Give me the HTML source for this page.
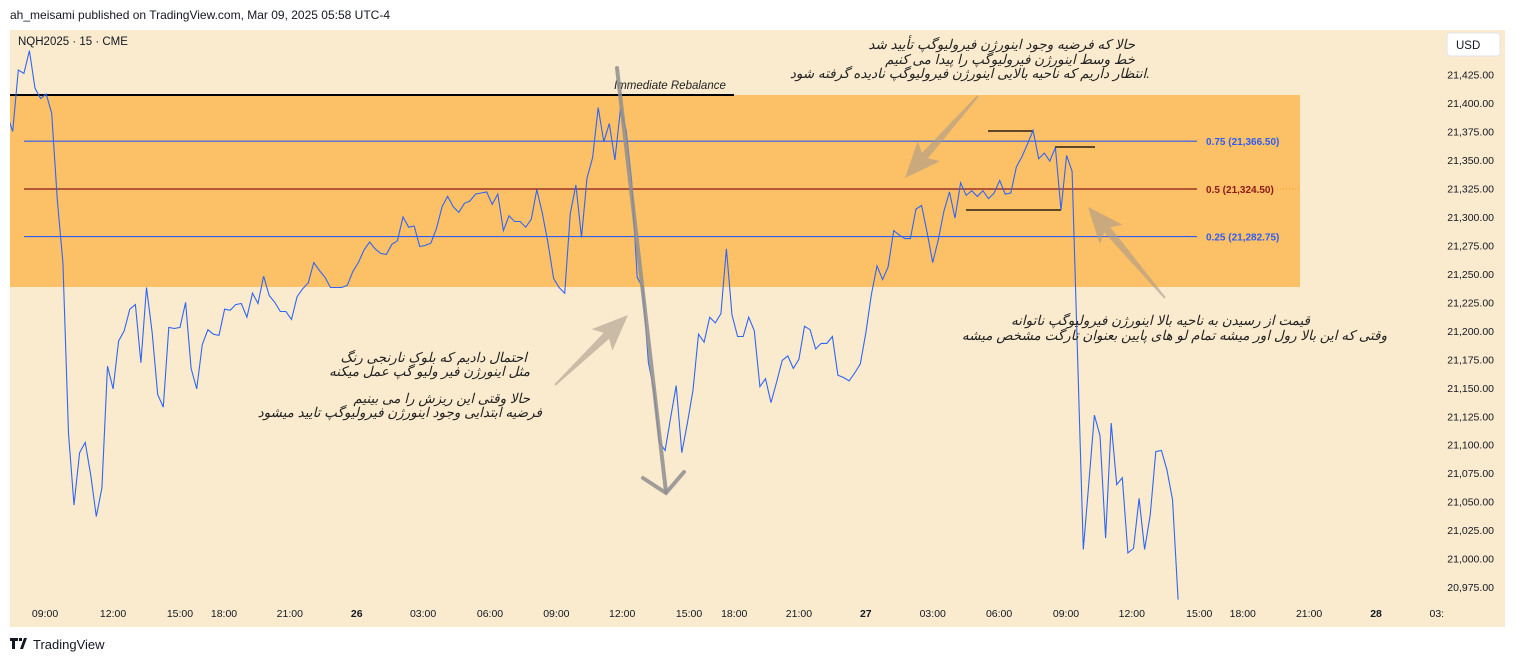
<!DOCTYPE html>
<html><head><meta charset="utf-8">
<style>
body{margin:0;background:#fff;width:1515px;height:662px;overflow:hidden;font-family:"Liberation Sans","DejaVu Sans",sans-serif;}
svg{position:absolute;left:0;top:0}
</style></head>
<body>
<svg id="chart" width="1515" height="662" viewBox="0 0 1515 662" xmlns="http://www.w3.org/2000/svg">
  <text x="10" y="19" font-size="12" fill="#131722">ah_meisami published on TradingView.com, Mar 09, 2025 05:58 UTC-4</text>
  <rect x="10" y="30" width="1495" height="597" fill="#faebcf"/>
  <rect x="10" y="95" width="1290" height="192" fill="#fcc066"/>
  <g id="fib"></g>
  <line x1="10" y1="95" x2="734" y2="95" stroke="#000" stroke-width="2"/>
  <text x="614" y="89" font-size="11.5" font-style="italic" fill="#222">Immediate Rebalance</text>
  <line x1="988" y1="131" x2="1033" y2="131" stroke="#000" stroke-width="1.2"/>
  <line x1="1055" y1="147" x2="1095" y2="147" stroke="#000" stroke-width="1.2"/>
  <line x1="966" y1="210" x2="1061" y2="210" stroke="#000" stroke-width="1.2"/>
  <g id="series"></g>
  <g id="arrows"></g>
  <g id="yaxis"></g>
  <g id="xaxis"></g>
  <text x="18" y="45" font-size="11.5" fill="#131722">NQH2025 · 15 · CME</text>
  <rect x="1447" y="33" width="53" height="23" rx="3" fill="#fff" stroke="#e0e3eb"/>
  <text x="1456" y="49" font-size="11.5" fill="#131722">USD</text>
  <g font-family="'Liberation Sans','DejaVu Sans',sans-serif" font-size="13.5" fill="#222" font-style="italic" text-anchor="start" direction="rtl">
    <text x="1135" y="49">حالا که فرضیه وجود اینورژن فیرولیوگپ تأیید شد</text>
    <text x="1135" y="64">خط وسط اینورژن فیرولیوگپ را پیدا می کنیم</text>
    <text x="1150" y="78">.انتظار داریم که ناحیه بالایی اینورژن فیرولیوگپ نادیده گرفته شود</text>
    <text x="527" y="362">احتمال دادیم که بلوک نارنجی رنگ</text>
    <text x="530" y="376">مثل اینورژن فیر ولیو گپ عمل میکنه</text>
    <text x="530" y="403">حالا وقتی این ریزش را می بینیم</text>
    <text x="542" y="417">فرضیه ابتدایی وجود اینورژن فیرولیوگپ تایید میشود</text>
    <text x="1310" y="325">قیمت از رسیدن به ناحیه بالا اینورژن فیرولیوگپ ناتوانه</text>
    <text x="1387" y="340">وقتی که این بالا رول اور میشه تمام لو های پایین بعنوان تارگت مشخص میشه</text>
  </g>
  <g>
    <path d="M10 638h8v3h-3v8h-3v-8h-2z M19 638h3v3h-3z M24 638h3l-4 11h-3z" fill="#131722"/>
    <text x="33" y="649" font-size="13" fill="#131722">TradingView</text>
  </g>
</svg>
<script>
const prices=[21390,21375,21429,21426,21446,21413,21404,21408,21391,21315,21260,21110,21047,21093,21102,21073,21037,21062,21169,21149,21191,21200,21219,21223,21172,21238,21199,21144,21133,21203,21202,21203,21225,21167,21149,21188,21201,21197,21196,21219,21218,21223,21224,21212,21233,21224,21248,21231,21225,21217,21217,21210,21230,21237,21242,21260,21253,21247,21238,21238,21238,21240,21252,21260,21271,21278,21272,21268,21267,21276,21279,21300,21291,21292,21274,21275,21277,21290,21309,21318,21309,21304,21312,21314,21320,21321,21322,21311,21320,21288,21301,21296,21296,21291,21298,21324,21303,21277,21246,21238,21233,21303,21328,21282,21334,21352,21396,21366,21382,21350,21395,21376,21332,21247,21238,21172,21148,21102,21095,21124,21152,21093,21119,21148,21197,21190,21212,21207,21215,21272,21214,21195,21195,21212,21200,21151,21158,21137,21155,21174,21178,21167,21175,21204,21201,21184,21189,21189,21195,21161,21159,21156,21163,21171,21198,21232,21257,21245,21256,21288,21284,21281,21281,21307,21310,21286,21260,21280,21305,21322,21299,21330,21319,21323,21318,21323,21316,21321,21332,21320,21321,21344,21353,21364,21376,21351,21356,21349,21361,21306,21354,21340,21174,21008,21067,21126,21108,21018,21119,21065,21071,21005,21009,21053,21008,21038,21094,21095,21078,21052,20964];
const firstBar=-1;
const priceTicks=[21425,21400,21375,21350,21325,21300,21275,21250,21225,21200,21175,21150,21125,21100,21075,21050,21025,21000,20975];
const timeLabels=["09:00","12:00","15:00","18:00","21:00","26","03:00","06:00","09:00","12:00","15:00","18:00","21:00","27","03:00","06:00","09:00","12:00","15:00","18:00","21:00","28","03:"];
const timeBars=[5.8,18,30,37.9,49.7,61.7,73.6,85.6,97.5,109.3,121.3,129.4,141,153,165,176.9,188.9,200.7,212.8,220.6,232.5,244.5,255.4];
const fibLevels=[0.75,0.5,0.25];
const fibPrices=[21366.5,21324.5,21282.75];
const fibLabels=["0.75 (21,366.50)","0.5 (21,324.50)","0.25 (21,282.75)"];

const NS="http://www.w3.org/2000/svg";
function yS(p){return 131.5+(21375-p)*1.139;}
function xS(i){return 12.7+i*5.576;}
function mk(tag,attrs,parent){const e=document.createElementNS(NS,tag);for(const k in attrs)e.setAttribute(k,attrs[k]);parent.appendChild(e);return e;}

const fib=document.getElementById('fib');
fibPrices.forEach((p,k)=>{
  const col=fibLevels[k]===0.5?'#8b1a1a':'#2f5cf0';
  const l=mk('line',{x1:24,x2:1197,y1:yS(p),y2:yS(p),stroke:col,'stroke-width':1.2},fib);
  
  
  const t=mk('text',{x:1206,y:yS(p)+4,'font-size':10,'font-weight':'bold',fill:col},fib);
  t.textContent=fibLabels[k];
  
  
  if(fibLevels[k]===0.5){
    const d=mk('line',{x1:1277,x2:1300,y1:yS(p),y2:yS(p),stroke:'#f5a623','stroke-width':1,'stroke-dasharray':'1,2'},fib);
    
    
  }
});

const ser=document.getElementById('series');
const clip=mk('clipPath',{id:'plotclip'},ser);
mk('rect',{x:10,y:30,width:1395,height:570},clip);
let d='';
prices.forEach((p,k)=>{d+=(k?'L':'M')+xS(firstBar+k).toFixed(1)+' '+yS(p).toFixed(1);});
const path=mk('path',{d:d,fill:'none',stroke:'#2f66f5','stroke-width':1.1,'clip-path':'url(#plotclip)'},ser);



const ya=document.getElementById('yaxis');
priceTicks.forEach(p=>{
  const t=mk('text',{x:1494,y:yS(p)+4,'font-size':10.5,fill:'#131722','text-anchor':'end'},ya);
  t.textContent=p.toLocaleString('en-US',{minimumFractionDigits:2});
  
  
});

const xa=document.getElementById('xaxis');
timeLabels.forEach((s,k)=>{
  const bold=!s.includes(':');
  const t=mk('text',{x:xS(timeBars[k]),y:617,'font-size':10.5,fill:'#131722','text-anchor':'middle','font-weight':bold?'bold':'normal'},xa);
  t.textContent=s;
  
  
});

const ar=document.getElementById('arrows');
function fatArrow(x1,y1,x2,y2,name){
  const dx=x2-x1,dy=y2-y1,L=Math.hypot(dx,dy),ux=dx/L,uy=dy/L,nx=-uy,ny=ux;
  const hl=30,hw=15,sw=4;
  const bx=x2-ux*hl,by=y2-uy*hl;
  const pts=[[x1+nx*1,y1+ny*1],[bx+nx*sw,by+ny*sw],[bx+nx*hw-ux*6,by+ny*hw-uy*6],[x2,y2],[bx-nx*hw-ux*6,by-ny*hw-uy*6],[bx-nx*sw,by-ny*sw],[x1-nx*1,y1-ny*1]];
  const pg=mk('polygon',{points:pts.map(p=>p[0].toFixed(1)+','+p[1].toFixed(1)).join(' '),fill:'#a89b8a','fill-opacity':0.6},ar);
  
  
}
fatArrow(555,385,628,315,'arrow-left-up');
fatArrow(978,96,905,178,'arrow-top-down');
fatArrow(1165,298,1088,207,'arrow-right-up');
const big=mk('g',{stroke:'#8f8f8f','stroke-width':4,'stroke-opacity':0.85,fill:'none','stroke-linecap':'round'},ar);


mk('line',{x1:617,y1:68,x2:666,y2:492},big);
mk('polyline',{points:'643,478 666,493 684,472'},big);
</script>
</body></html>
